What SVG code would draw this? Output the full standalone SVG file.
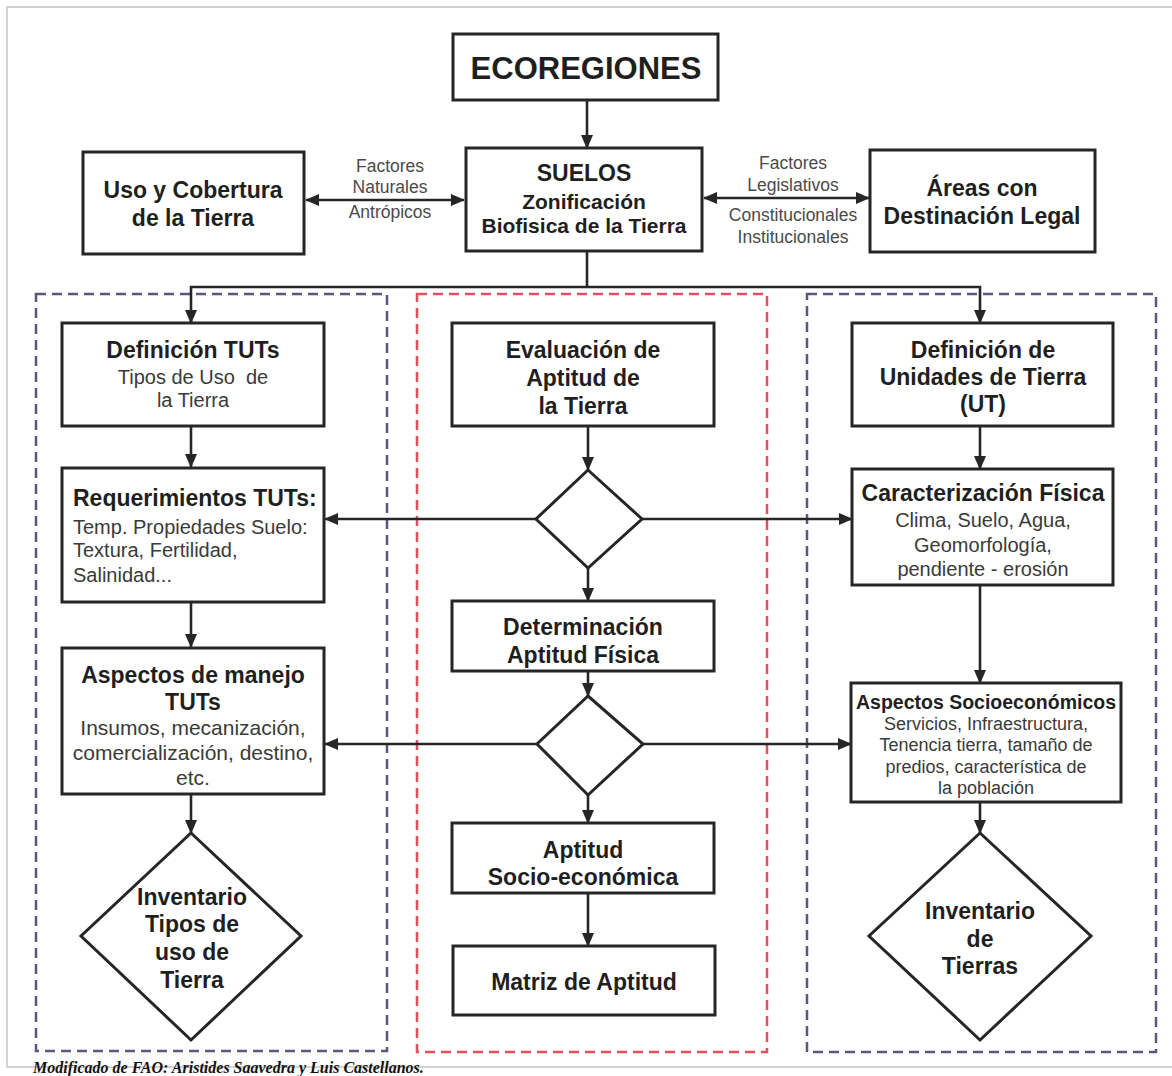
<svg xmlns="http://www.w3.org/2000/svg" width="1172" height="1076" viewBox="0 0 1172 1076">
  <defs>
    <marker id="arrow" markerUnits="userSpaceOnUse" markerWidth="14" markerHeight="12" refX="13" refY="6" orient="auto-start-reverse" viewBox="0 0 14 12">
      <path d="M0,0 L14,6 L0,12 z" fill="#262626"/>
    </marker>
    <style>
      .box { fill: #ffffff; stroke: #262626; stroke-width: 3; }
      .dia { fill: #ffffff; stroke: #262626; stroke-width: 3; stroke-linejoin: miter; }
      .conn { fill: none; stroke: #262626; stroke-width: 2.6; }
      .zone-blue { fill: none; stroke: #58587f; stroke-width: 2.5; stroke-dasharray: 10 6; }
      .zone-red { fill: none; stroke: #e2505c; stroke-width: 2.5; stroke-dasharray: 10 6; }
      text { font-family: "Liberation Sans", Arial, sans-serif; fill: #1f1f1f; }
      .h { font-size: 23px; font-weight: bold; text-anchor: middle; }
      .hl { font-size: 23px; font-weight: bold; }
      .s { font-size: 20px; text-anchor: middle; fill: #3a3a3a; }
      .sl { font-size: 20px; fill: #3a3a3a; }
      .lbl { font-size: 17.5px; text-anchor: middle; fill: #4a4a4a; }
      .cap { font-family: "Liberation Serif", "Times New Roman", serif; font-size: 16px; font-weight: bold; font-style: italic; fill: #111; }
    </style>
  </defs>

  <rect x="0" y="0" width="1172" height="1076" fill="#ffffff"/>
  <!-- page frame -->
  <rect x="7" y="7" width="1170" height="1060" fill="none" stroke="#d2d2d2" stroke-width="2"/>

  <!-- grouping zones -->
  <g id="zones">
    <rect class="zone-blue" x="36" y="294" width="351" height="757"/>
    <rect class="zone-red" x="417" y="294" width="350" height="758"/>
    <rect class="zone-blue" x="807" y="294" width="349" height="758"/>
  </g>

  <!-- connectors -->
  <g id="connectors">
    <line class="conn" x1="587" y1="100" x2="587" y2="148" marker-end="url(#arrow)"/>
    <line class="conn" x1="306" y1="200" x2="464" y2="200" marker-start="url(#arrow)" marker-end="url(#arrow)"/>
    <line class="conn" x1="704" y1="198" x2="869" y2="198" marker-start="url(#arrow)" marker-end="url(#arrow)"/>
    <polyline class="conn" points="587,251 587,287"/>
    <polyline class="conn" points="191,323 191,287 980,287 980,323" marker-start="url(#arrow)" marker-end="url(#arrow)"/>
    <!-- left column -->
    <line class="conn" x1="191" y1="426" x2="191" y2="467" marker-end="url(#arrow)"/>
    <line class="conn" x1="191" y1="602" x2="191" y2="647" marker-end="url(#arrow)"/>
    <line class="conn" x1="191" y1="794" x2="191" y2="833" marker-end="url(#arrow)"/>
    <!-- centre column -->
    <line class="conn" x1="588" y1="426" x2="588" y2="470" marker-end="url(#arrow)"/>
    <line class="conn" x1="588" y1="568" x2="588" y2="601" marker-end="url(#arrow)"/>
    <line class="conn" x1="588" y1="671" x2="588" y2="696" marker-end="url(#arrow)"/>
    <line class="conn" x1="588" y1="795" x2="588" y2="823" marker-end="url(#arrow)"/>
    <line class="conn" x1="588" y1="893" x2="588" y2="946" marker-end="url(#arrow)"/>
    <!-- right column -->
    <line class="conn" x1="980" y1="426" x2="980" y2="469" marker-end="url(#arrow)"/>
    <line class="conn" x1="980" y1="585" x2="980" y2="683" marker-end="url(#arrow)"/>
    <line class="conn" x1="980" y1="802" x2="980" y2="833" marker-end="url(#arrow)"/>
    <!-- decision branches -->
    <line class="conn" x1="536" y1="519" x2="325" y2="519" marker-end="url(#arrow)"/>
    <line class="conn" x1="642" y1="519" x2="852" y2="519" marker-end="url(#arrow)"/>
    <line class="conn" x1="537" y1="744" x2="325" y2="744" marker-end="url(#arrow)"/>
    <line class="conn" x1="643" y1="744" x2="851" y2="744" marker-end="url(#arrow)"/>
  </g>

  <!-- top row -->
  <g id="ecoregiones">
    <rect class="box" x="453" y="34" width="265" height="66"/>
    <text x="586" y="79" text-anchor="middle" style="font-size:31px;font-weight:bold">ECOREGIONES</text>
  </g>
  <g id="suelos">
    <rect class="box" x="466" y="148" width="236" height="103"/>
    <text class="h" x="584" y="181">SUELOS</text>
    <text class="h" x="584" y="209" style="font-size:21px">Zonificación</text>
    <text class="h" x="584" y="233" style="font-size:21px">Biofisica de la Tierra</text>
  </g>
  <g id="uso-cobertura">
    <rect class="box" x="83" y="152" width="221" height="102"/>
    <text class="h" x="193" y="198">Uso y Cobertura</text>
    <text class="h" x="193" y="226">de la Tierra</text>
  </g>
  <g id="areas-legal">
    <rect class="box" x="870" y="150" width="225" height="102"/>
    <text class="h" x="982" y="196">Áreas con</text>
    <text class="h" x="982" y="224">Destinación Legal</text>
  </g>
  <g id="label-naturales">
    <text class="lbl" x="390" y="172">Factores</text>
    <text class="lbl" x="390" y="193">Naturales</text>
    <text class="lbl" x="390" y="218">Antrópicos</text>
  </g>
  <g id="label-legislativos">
    <text class="lbl" x="793" y="169">Factores</text>
    <text class="lbl" x="793" y="191">Legislativos</text>
    <text class="lbl" x="793" y="221">Constitucionales</text>
    <text class="lbl" x="793" y="243">Institucionales</text>
  </g>

  <!-- left column: land use types -->
  <g id="definicion-tuts">
    <rect class="box" x="62" y="323" width="262" height="103"/>
    <text class="h" x="193" y="358">Definición TUTs</text>
    <text class="s" x="193" y="384" xml:space="preserve">Tipos de Uso  de</text>
    <text class="s" x="193" y="407">la Tierra</text>
  </g>
  <g id="requerimientos-tuts">
    <rect class="box" x="62" y="468" width="262" height="134"/>
    <text class="hl" x="73" y="506">Requerimientos TUTs:</text>
    <text class="sl" x="73" y="534">Temp. Propiedades Suelo:</text>
    <text class="sl" x="73" y="557">Textura, Fertilidad,</text>
    <text class="sl" x="73" y="582">Salinidad...</text>
  </g>
  <g id="aspectos-manejo">
    <rect class="box" x="62" y="648" width="262" height="146"/>
    <text class="h" x="193" y="683">Aspectos de manejo</text>
    <text class="h" x="193" y="710">TUTs</text>
    <text class="s" x="193" y="735" style="font-size:21px">Insumos, mecanización,</text>
    <text class="s" x="193" y="760" style="font-size:21px">comercialización, destino,</text>
    <text class="s" x="193" y="785" style="font-size:21px">etc.</text>
  </g>
  <g id="inventario-tipos-uso">
    <polygon class="dia" points="191,833 301,936 191,1040 81,936"/>
    <text class="h" x="192" y="905">Inventario</text>
    <text class="h" x="192" y="932">Tipos de</text>
    <text class="h" x="192" y="960">uso de</text>
    <text class="h" x="192" y="988">Tierra</text>
  </g>

  <!-- centre column: suitability -->
  <g id="evaluacion-aptitud">
    <rect class="box" x="452" y="323" width="262" height="103"/>
    <text class="h" x="583" y="358">Evaluación de</text>
    <text class="h" x="583" y="386">Aptitud de</text>
    <text class="h" x="583" y="414">la Tierra</text>
  </g>
  <g id="decision-fisica">
    <polygon class="dia" points="588,470 642,519 588,568 536,519"/>
  </g>
  <g id="determinacion-aptitud">
    <rect class="box" x="452" y="601" width="262" height="70"/>
    <text class="h" x="583" y="635">Determinación</text>
    <text class="h" x="583" y="663">Aptitud Física</text>
  </g>
  <g id="decision-socioeconomica">
    <polygon class="dia" points="588,696 643,744 588,795 537,744"/>
  </g>
  <g id="aptitud-socioeconomica">
    <rect class="box" x="452" y="823" width="262" height="70"/>
    <text class="h" x="583" y="858">Aptitud</text>
    <text class="h" x="583" y="885">Socio-económica</text>
  </g>
  <g id="matriz-aptitud">
    <rect class="box" x="453" y="946" width="262" height="69"/>
    <text class="h" x="584" y="990">Matriz de Aptitud</text>
  </g>

  <!-- right column: land units -->
  <g id="definicion-ut">
    <rect class="box" x="852" y="323" width="261" height="103"/>
    <text class="h" x="983" y="358">Definición de</text>
    <text class="h" x="983" y="385">Unidades de Tierra</text>
    <text class="h" x="983" y="412">(UT)</text>
  </g>
  <g id="caracterizacion-fisica">
    <rect class="box" x="852" y="469" width="261" height="116"/>
    <text class="h" x="983" y="501">Caracterización Física</text>
    <text class="s" x="983" y="527">Clima, Suelo, Agua,</text>
    <text class="s" x="983" y="552">Geomorfología,</text>
    <text class="s" x="983" y="576">pendiente - erosión</text>
  </g>
  <g id="aspectos-socioeconomicos">
    <rect class="box" x="851" y="683" width="270" height="119"/>
    <text class="h" x="986" y="709" style="font-size:19.5px">Aspectos Socioeconómicos</text>
    <text class="s" x="986" y="730" style="font-size:18px">Servicios, Infraestructura,</text>
    <text class="s" x="986" y="751" style="font-size:18px">Tenencia tierra, tamaño de</text>
    <text class="s" x="986" y="773" style="font-size:18px">predios, característica de</text>
    <text class="s" x="986" y="794" style="font-size:18px">la población</text>
  </g>
  <g id="inventario-tierras">
    <polygon class="dia" points="980,833 1091,936 980,1040 869,936"/>
    <text class="h" x="980" y="919">Inventario</text>
    <text class="h" x="980" y="947">de</text>
    <text class="h" x="980" y="974">Tierras</text>
  </g>

  <text class="cap" x="33" y="1073">Modificado de FAO: Aristides Saavedra y Luis Castellanos.</text>
</svg>
